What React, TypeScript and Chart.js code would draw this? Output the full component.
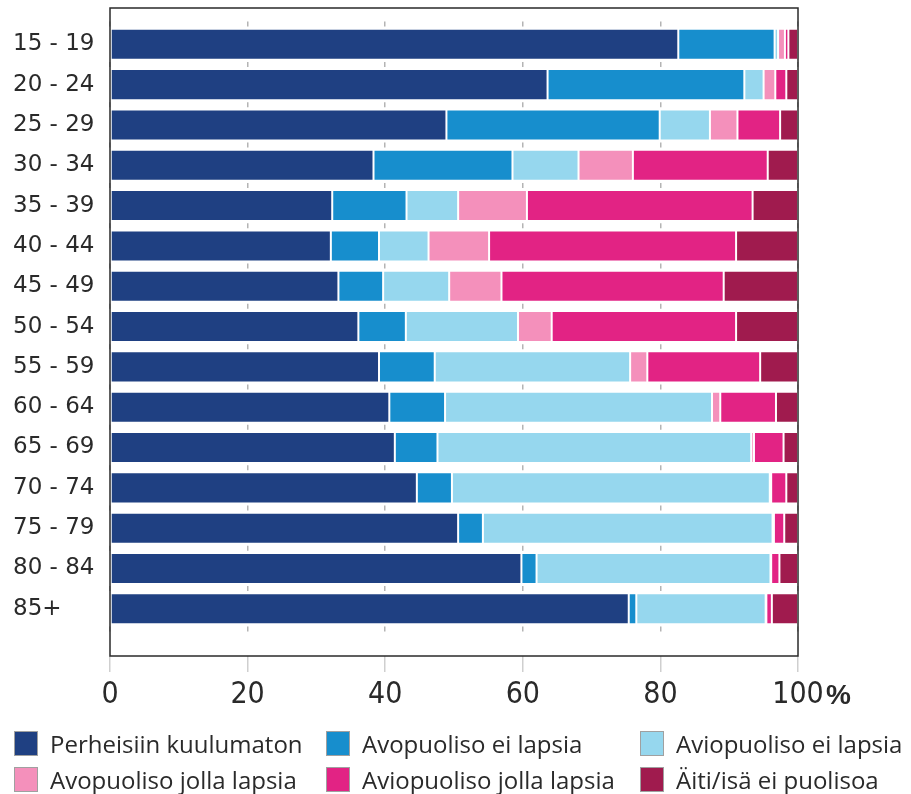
import React, { useEffect, useRef } from 'react';
import { Chart, registerables } from 'chart.js';

Chart.register(...registerables);

const AGE_GROUPS = [
  '15 - 19', '20 - 24', '25 - 29', '30 - 34', '35 - 39', '40 - 44', '45 - 49', '50 - 54',
  '55 - 59', '60 - 64', '65 - 69', '70 - 74', '75 - 79', '80 - 84', '85+',
];

const SERIES_NAMES = [
  'Perheisiin kuulumaton',
  'Avopuoliso ei lapsia',
  'Aviopuoliso ei lapsia',
  'Avopuoliso jolla lapsia',
  'Aviopuoliso jolla lapsia',
  'Äiti/isä ei puolisoa',
];

const SERIES_COLORS = ['#1f4082', '#178ecd', '#96d7ee', '#f490bb', '#e22384', '#a01b4e'];

const PERHEISIIN_KUULUMATON = [82.6, 63.6, 48.9, 38.3, 32.3, 32.1, 33.2, 36.1, 39.1, 40.6, 41.4, 44.6, 50.6, 59.8, 75.4];
const AVOPUOLISO_EI_LAPSIA = [14.0, 28.6, 31.0, 20.2, 10.8, 7.0, 6.5, 6.9, 8.1, 8.1, 6.2, 5.1, 3.6, 2.2, 1.1];
const AVIOPUOLISO_EI_LAPSIA = [0.5, 2.8, 7.3, 9.6, 7.5, 7.2, 9.6, 16.3, 28.4, 38.8, 45.6, 46.2, 42.1, 34.0, 18.8];
const AVOPUOLISO_JOLLA_LAPSIA = [1.0, 1.7, 4.0, 7.9, 10.0, 8.8, 7.6, 4.9, 2.5, 1.2, 0.4, 0.2, 0.2, 0.1, 0.1];
const AVIOPUOLISO_JOLLA_LAPSIA = [0.5, 1.6, 6.2, 19.6, 32.8, 35.9, 32.3, 26.8, 16.4, 8.1, 4.3, 2.2, 1.5, 1.2, 0.8];
const AITI_ISA_EI_PUOLISOA = [1.4, 1.7, 2.6, 4.4, 6.6, 9.0, 10.8, 9.0, 5.5, 3.2, 2.1, 1.7, 2.0, 2.7, 3.8];

const SERIES_VALUES = [
  PERHEISIIN_KUULUMATON,
  AVOPUOLISO_EI_LAPSIA,
  AVIOPUOLISO_EI_LAPSIA,
  AVOPUOLISO_JOLLA_LAPSIA,
  AVIOPUOLISO_JOLLA_LAPSIA,
  AITI_ISA_EI_PUOLISOA,
];

const X_TICK_VALUES = [0, 20, 40, 60, 80, 100];
const X_UNIT = '%';

const TICK_FONT = "'Liberation Sans Narrow', 'DejaVu Sans Condensed', 'Liberation Sans', sans-serif";

const framePlugin = {
  id: 'frame',
  afterDatasetsDraw(chart: any) {
    const { ctx, chartArea: a } = chart;
    ctx.save();
    ctx.strokeStyle = '#2a2a2a';
    ctx.lineWidth = 1.5;
    ctx.strokeRect(a.left, a.top, a.right - a.left, a.bottom - a.top);
    ctx.restore();
  },
};

const unitPlugin = {
  id: 'unit',
  afterDraw(chart: any) {
    const { ctx } = chart;
    const xs = chart.scales.x;
    const px = xs.getPixelForValue(X_TICK_VALUES[X_TICK_VALUES.length - 1]);
    ctx.save();
    ctx.font = "bold 28px 'Liberation Sans', Arial, sans-serif";
    ctx.fillStyle = '#2a2a2a';
    ctx.textAlign = 'left';
    ctx.textBaseline = 'alphabetic';
    ctx.fillText(X_UNIT, px + 28, xs.top + 16 + 5 + 27);
    ctx.restore();
  },
};

export default function App() {
  const canvasRef = useRef<HTMLCanvasElement | null>(null);

  useEffect(() => {
    if (!canvasRef.current) return;
    const chart = new Chart(canvasRef.current, {
      type: 'bar',
      data: {
        labels: AGE_GROUPS.map((_, i) => i),
        datasets: SERIES_NAMES.map((name, i) => ({
          label: name,
          data: SERIES_VALUES[i],
          backgroundColor: SERIES_COLORS[i],
          borderColor: '#ffffff',
          borderWidth: 1,
          borderSkipped: false,
          barPercentage: 0.77,
          categoryPercentage: 1,
        })),
      },
      options: {
        indexAxis: 'y',
        animation: false,
        responsive: false,
        maintainAspectRatio: false,
        layout: { padding: { left: 13, right: 113, top: 8, bottom: 78 } },
        plugins: {
          legend: { display: false },
          tooltip: { enabled: false },
        },
        scales: {
          x: {
            type: 'linear',
            stacked: true,
            min: 0,
            max: 100,
            afterFit: (scale: any) => { scale.height = 60; },
            afterBuildTicks: (scale: any) => { scale.ticks = X_TICK_VALUES.map((v) => ({ value: v })); },
            ticks: {
              font: { family: TICK_FONT, size: 30 },
              color: '#2a2a2a',
              padding: 5,
              maxRotation: 0,
              callback: (v: any) => String(v),
            },
            grid: {
              color: '#b4b4b4',
              lineWidth: 1.5,
              tickLength: 16,
              tickColor: '#cfcfcf',
              tickWidth: 1.5,
              tickBorderDash: [],
            },
            border: { display: false, dash: [5, 35.32], dashOffset: 26.7 },
          },
          y: {
            type: 'linear',
            stacked: true,
            reverse: true,
            offset: false,
            min: -0.9,
            max: 15.17,
            afterFit: (scale: any) => {
              scale.width = 97;
              scale.paddingTop = 0;
              scale.paddingBottom = 0;
            },
            afterBuildTicks: (scale: any) => { scale.ticks = AGE_GROUPS.map((_, i) => ({ value: i })); },
            ticks: {
              font: { family: "'DejaVu Sans', Verdana, sans-serif", size: 23 },
              color: '#2a2a2a',
              crossAlign: 'far',
              callback: (v: any) => AGE_GROUPS[v] ?? '',
            },
            grid: { display: false, offset: false },
            border: { display: false },
          },
        },
      },
      plugins: [framePlugin, unitPlugin],
    } as any);
    return () => chart.destroy();
  }, []);

  const legendCols = [14, 326, 640];
  const legendRows = [731, 767];

  return (
    <div style={{ position: 'absolute', left: 0, top: 0, width: 911, height: 794, background: '#fff' }}>
      <canvas ref={canvasRef} width={911} height={794} style={{ display: 'block', width: 911, height: 794 }} />
      {SERIES_NAMES.map((name, i) => (
        <div
          key={name}
          style={{
            position: 'absolute',
            left: legendCols[i % 3],
            top: legendRows[Math.floor(i / 3)],
            height: 25,
            display: 'flex',
            alignItems: 'center',
            whiteSpace: 'nowrap',
          }}
        >
          <span
            style={{
              display: 'inline-block',
              width: 22,
              height: 23,
              background: SERIES_COLORS[i],
              border: '1px solid #a0a0a0',
              marginRight: 12,
            }}
          />
          <span style={{ fontFamily: "'Open Sans', 'DejaVu Sans', sans-serif", fontWeight: 400, fontSize: 24, color: '#2a2a2a', lineHeight: '25px' }}>
            {name}
          </span>
        </div>
      ))}
    </div>
  );
}
